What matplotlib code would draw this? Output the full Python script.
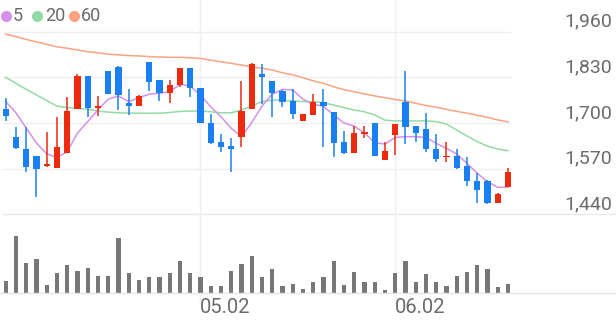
import numpy as np
import matplotlib
matplotlib.use('Agg')
import matplotlib.pyplot as plt
import matplotlib.transforms as mtransforms
from matplotlib.lines import Line2D

plt.rcParams['font.family'] = ['Roboto', 'DejaVu Sans']

# 일봉 데이터 (시가, 고가, 저가, 종가)
opens = [1740, 1660, 1625, 1605, 1578, 1571, 1615, 1739, 1835, 1742,
         1848, 1860, 1758, 1748, 1873, 1822, 1786, 1808, 1856, 1800,
         1701, 1647, 1635, 1659, 1739, 1840, 1820, 1791, 1763, 1707,
         1723, 1760, 1732, 1646, 1615, 1669, 1699, 1595, 1666, 1760,
         1692, 1682, 1626, 1602, 1607, 1578, 1536, 1536, 1473, 1517]
highs = [1770, 1690, 1690, 1605, 1675, 1718, 1775, 1840, 1835, 1777,
         1848, 1862, 1796, 1780, 1873, 1822, 1822, 1856, 1856, 1800,
         1726, 1668, 1656, 1820, 1870, 1867, 1820, 1794, 1796, 1725,
         1783, 1796, 1732, 1678, 1691, 1691, 1699, 1647, 1697, 1849,
         1692, 1728, 1669, 1645, 1626, 1602, 1558, 1538, 1500, 1571]
lows = [1705, 1625, 1560, 1490, 1576, 1571, 1615, 1739, 1718, 1720,
        1783, 1737, 1723, 1748, 1792, 1763, 1758, 1802, 1775, 1699,
        1640, 1618, 1561, 1631, 1739, 1754, 1718, 1746, 1710, 1707,
        1723, 1631, 1602, 1612, 1615, 1656, 1606, 1595, 1609, 1640,
        1647, 1618, 1588, 1590, 1569, 1521, 1471, 1469, 1473, 1517]
closes = [1720, 1630, 1575, 1570, 1582, 1631, 1734, 1835, 1742, 1747,
          1783, 1780, 1748, 1778, 1818, 1785, 1808, 1856, 1799, 1699,
          1644, 1632, 1625, 1734, 1867, 1830, 1786, 1760, 1725, 1725,
          1760, 1748, 1644, 1615, 1671, 1675, 1606, 1621, 1697, 1689,
          1672, 1625, 1597, 1607, 1573, 1535, 1509, 1473, 1498, 1561]
volume = [12.7, 57.7, 30, 34.3, 8, 20.7, 28, 22, 25.7, 17,
          17, 55.7, 20, 13, 16.7, 16.7, 20.7, 32.3, 20.7, 16.3,
          7.3, 7.3, 22.3, 29.3, 37.7, 16.3, 24.3, 7.3, 9.3, 4.3,
          11.3, 16.3, 32, 8.7, 21.7, 11.3, 11.3, 3.7, 20, 32.3,
          11.7, 19, 11, 7, 17, 21.7, 28.7, 24.3, 6, 9.3]

# 이동평균선
ma5 = [1761, 1729, 1686, 1643, 1612, 1602, 1618, 1671, 1704, 1737,
       1768, 1777, 1761, 1772, 1782, 1785, 1789, 1810, 1805, 1780,
       1746, 1718, 1685, 1661, 1701, 1748, 1782, 1796, 1794, 1768,
       1753, 1748, 1723, 1700, 1691, 1672, 1644, 1640, 1659, 1661,
       1661, 1659, 1642, 1628, 1612, 1585, 1557, 1533, 1517, 1517]
ma20 = [1830, 1813, 1796, 1780, 1764, 1748, 1744, 1742, 1739, 1734,
        1731, 1729, 1728, 1728, 1728, 1728, 1730, 1733, 1734, 1734,
        1732, 1729, 1729, 1737, 1748, 1761, 1765, 1765, 1763, 1761,
        1761, 1758, 1751, 1744, 1737, 1732, 1723, 1708, 1706, 1706,
        1706, 1706, 1704, 1697, 1680, 1663, 1647, 1634, 1626, 1621]
ma60 = [1953, 1946, 1938, 1931, 1924, 1917, 1913, 1908, 1903, 1900,
        1896, 1894, 1892, 1891, 1889, 1888, 1887, 1887, 1886, 1884,
        1879, 1874, 1870, 1865, 1860, 1856, 1851, 1843, 1837, 1829,
        1820, 1813, 1803, 1795, 1789, 1783, 1777, 1772, 1767, 1763,
        1756, 1750, 1745, 1739, 1733, 1728, 1722, 1716, 1709, 1703]

yticks = [1440, 1570, 1700, 1830, 1960]
date_idx = [19, 38]
date_labels = ['05.02', '06.02']

W, H = 616, 321
RED = '#ec2a0e'
BLUE = '#1a7ff0'
GRID = '#efefef'
TXT = '#6b6b6b'

fig = plt.figure(figsize=(W / 100, H / 100), dpi=100)

# 가격 영역 (위쪽 0~225px, 가로 0~511px)
ax = fig.add_axes([0, (H - 225) / H, 511 / W, 225 / H])
ax.set_xlim(-0.556, 49.3)
ax.set_ylim(1409.5, 2050.3)
ax.axis('off')

# 거래량 영역
axv = fig.add_axes([0, (H - 302) / H, 1, 74 / H])
axv.set_xlim(-0.556, 59.54)
axv.set_ylim(-8.7, 65.3)
axv.axis('off')

x = np.arange(len(closes))

for y in yticks:
    if y == yticks[0]:
        ax.axhline(y, xmin=3 / 511, xmax=W / 511, color='#e8e8e8', lw=1.0, clip_on=False, zorder=0)
    else:
        ax.axhline(y, xmin=3 / 511, color=GRID, lw=1.0, zorder=0)

for i in date_idx:
    ax.axvline(i, ymin=-77 / 225, ymax=1, color=GRID, lw=1.0, clip_on=False, zorder=0)

# 이동평균선
ax.plot(x, ma60, color='#f9a37f', lw=1.1, zorder=1)
ax.plot(x, ma20, color='#93dba5', lw=1.1, zorder=1)
ax.plot(x, ma5, color='#d591ea', lw=1.1, zorder=1)

# 캔들
for i in x:
    up = closes[i] >= opens[i]
    c = RED if up else BLUE
    ax.vlines(i, lows[i], highs[i], color=c, lw=1.1, zorder=2)
    h = abs(closes[i] - opens[i])
    ax.bar(i, max(h, 4), bottom=min(opens[i], closes[i]), width=0.6, color=c, lw=0, zorder=3)

# 거래량
axv.bar(x, volume, width=0.4, color='#777777', lw=0)
axv.axhline(0, color='#e6e6e6', lw=1.0)

# y축 라벨
trans = mtransforms.blended_transform_factory(fig.transFigure, ax.transData)
trans = mtransforms.offset_copy(trans, fig=fig, y=5, units='dots')
for y in yticks:
    ax.text(612 / W, y, f'{y:,}', transform=trans, ha='right', va='baseline',
            fontsize=14, color=TXT)

# x축 라벨
xtrans = mtransforms.blended_transform_factory(axv.transData, fig.transFigure)
for i, lab in zip(date_idx, date_labels):
    axv.text(i - 0.05, (H - 313) / H, lab, ha='left', va='baseline', fontsize=14.5,
             color=TXT, transform=xtrans)

# 범례
legend = [('5', '#d591ea', 5.5, 13), ('20', '#93dba5', 37, 45), ('60', '#f9a37f', 74, 81)]
for lab, col, cx, tx in legend:
    fig.add_artist(Line2D([cx / W], [1 - 15.8 / H], marker='o', markersize=7,
                          color=col, lw=0, transform=fig.transFigure))
    fig.text(tx / W, 1 - 15.8 / H, lab, ha='left', va='center', fontsize=13, color=TXT)

fig.savefig('out.png', dpi=100)
